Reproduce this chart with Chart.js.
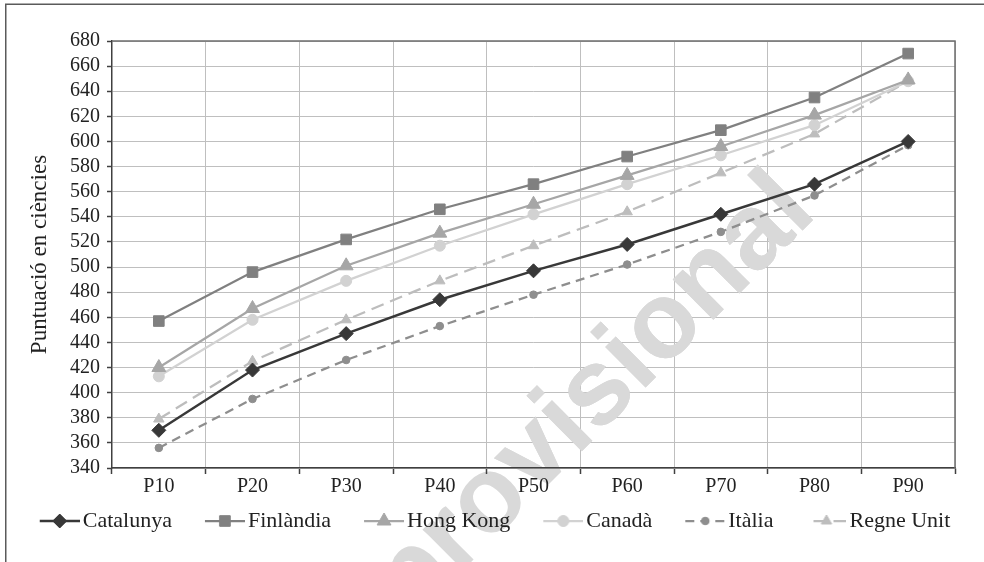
<!DOCTYPE html>
<html>
<head>
<meta charset="utf-8">
<script src="https://cdn.jsdelivr.net/npm/chart.js@4.4.1/dist/chart.umd.min.js"></script>
<style>
html,body{margin:0;padding:0;background:#fff;}
#wrap{width:984px;height:562px;position:relative;}
</style>
</head>
<body>
<div id="wrap"><canvas id="c" width="984" height="562"></canvas></div>
<script>
// ---- data ----
const categories = ['P10', 'P20', 'P30', 'P40', 'P50', 'P60', 'P70', 'P80', 'P90'];
const seriesNames = ['Catalunya', 'Finlàndia', 'Hong Kong', 'Canadà', 'Itàlia', 'Regne Unit'];
const catalunya = [370, 418, 447, 474, 497, 518, 542, 566, 600];
const finlandia = [457, 496, 522, 546, 566, 588, 609, 635, 670];
const hongKong  = [420, 467, 501, 527, 550, 573, 596, 621, 649];
const canada    = [413, 458, 489, 517, 542, 566, 589, 613, 648];
const italia    = [356, 395, 426, 453, 478, 502, 528, 557, 597];
const regneUnit = [379, 425, 458, 489, 517, 544, 575, 606, 648];
const yMin = 340, yMax = 680, yStep = 20;
const yTitle = 'Puntuació en ciències';
const watermarkText = 'provisional';

// ---- styles ----
const SERIF = '"Liberation Serif", "Times New Roman", serif';
const LEGEND_FS = 22;
const styles = [
  {color: '#383838', dash: [], point: 'rectRot', radius: 7, width: 2.5, rtl: false},
  {color: '#808080', dash: [], point: 'rect', radius: 7.5, width: 2.25, rtl: false},
  {color: '#a6a6a6', dash: [], point: 'triangle', radius: 8, width: 2.25, rtl: false},
  {color: '#d2d2d2', dash: [], point: 'circle', radius: 5.5, width: 2.25, rtl: false},
  {color: '#8e8e8e', dash: [9, 6], point: 'circle', radius: 3.8, width: 2.25, rtl: false},
  {color: '#bdbdbd', dash: [13, 7], point: 'triangle', radius: 6, width: 2.25, rtl: true}
];
const values = [catalunya, finlandia, hongKong, canada, italia, regneUnit];

const BOX_W = 65, LEGEND_PAD = 0, SAMPLE_LEN = 40;
function makeSample(st) {
  const W = BOX_W + LEGEND_FS - 6, H = 24;
  const cv = document.createElement('canvas');
  cv.width = W; cv.height = H;
  const ctx = cv.getContext('2d');
  const x0 = W - SAMPLE_LEN, y = H / 2;
  ctx.strokeStyle = st.color; ctx.lineWidth = st.width;
  ctx.setLineDash(st.dash);
  ctx.beginPath();
  if (st.rtl) { ctx.moveTo(W, y); ctx.lineTo(x0, y); } else { ctx.moveTo(x0, y); ctx.lineTo(W, y); }
  ctx.stroke();
  ctx.setLineDash([]);
  ctx.fillStyle = st.color; ctx.strokeStyle = st.color; ctx.lineWidth = 1;
  Chart.helpers.drawPoint(ctx, {pointStyle: st.point, radius: st.radius, rotation: 0, borderWidth: 1}, x0 + SAMPLE_LEN / 2, y);
  return cv;
}
const samples = styles.map(makeSample);

const datasets = seriesNames.map((name, i) => ({
  label: name,
  data: values[i],
  borderColor: styles[i].color,
  backgroundColor: styles[i].color,
  borderWidth: styles[i].width,
  borderDash: styles[i].dash,
  pointStyle: styles[i].point,
  pointRadius: styles[i].radius,
  pointHoverRadius: styles[i].radius,
  pointBorderWidth: 1,
  pointBackgroundColor: styles[i].color,
  pointBorderColor: styles[i].color,
  tension: 0,
  fill: false
}));

function drawWatermark(ctx) {
  ctx.save();
  ctx.translate(411, 622);
  ctx.rotate(-Math.PI / 4);
  ctx.font = 'bold 108px "Liberation Sans", Arial, sans-serif';
  ctx.fillStyle = '#d9d9d9';
  ctx.textBaseline = 'alphabetic';
  ctx.textAlign = 'left';
  ctx.fillText(watermarkText, 0, 0);
  ctx.restore();
}

const decor = {
  id: 'decor',
  beforeDraw(chart) {
    const ctx = chart.ctx;
    ctx.save();
    ctx.fillStyle = '#fff';
    ctx.fillRect(0, 0, chart.width, chart.height);
    drawWatermark(ctx);
    ctx.strokeStyle = '#5a5a5a';
    ctx.lineWidth = 1.5;
    ctx.beginPath();
    ctx.moveTo(5.75, chart.height);
    ctx.lineTo(5.75, 4.25);
    ctx.lineTo(chart.width, 4.25);
    ctx.stroke();
    ctx.restore();
  },
  beforeDatasetsDraw(chart) {
    const ctx = chart.ctx, a = chart.chartArea;
    ctx.save();
    ctx.beginPath();
    ctx.rect(a.left + 1, a.top + 1, a.right - a.left - 2, a.bottom - a.top - 2);
    ctx.clip();
    drawWatermark(ctx);
    ctx.restore();
    ctx.save();
    ctx.strokeStyle = '#6e6e6e';
    ctx.lineWidth = 1.5;
    ctx.beginPath();
    ctx.moveTo(a.left, a.top);
    ctx.lineTo(a.right, a.top);
    ctx.lineTo(a.right, a.bottom);
    ctx.stroke();
    ctx.restore();
  }
};

new Chart(document.getElementById('c'), {
  type: 'line',
  data: {labels: categories, datasets},
  options: {
    responsive: false,
    animation: false,
    devicePixelRatio: 1,
    layout: {padding: {left: 2, right: 29, top: 41, bottom: 20}},
    plugins: {
      tooltip: {enabled: false},
      legend: {
        position: 'bottom',
        labels: {
          usePointStyle: true,
          pointStyleWidth: BOX_W,
          padding: LEGEND_PAD,
          color: '#222',
          font: {family: SERIF, size: LEGEND_FS},
          generateLabels(chart) {
            return chart.data.datasets.map((ds, i) => ({
              text: ds.label,
              pointStyle: samples[i],
              fillStyle: 'transparent',
              strokeStyle: 'transparent',
              lineWidth: 0,
              hidden: false,
              datasetIndex: i,
              fontColor: '#222'
            }));
          }
        }
      }
    },
    scales: {
      x: {
        offset: true,
        grid: {offset: true, color: '#bfbfbf', lineWidth: 1, drawTicks: true, tickLength: 6, tickColor: '#404040', tickWidth: 1.5},
        border: {color: '#404040', width: 1.5},
        ticks: {color: '#222', font: {family: SERIF, size: 20}, padding: 1, maxRotation: 0, autoSkip: false},
        afterFit(scale) { scale.height = 42; }
      },
      y: {
        min: yMin, max: yMax,
        grid: {color: '#bfbfbf', lineWidth: 1, drawTicks: true, tickLength: 5, tickColor: '#404040', tickWidth: 1.5},
        border: {color: '#404040', width: 1.5},
        ticks: {stepSize: yStep, autoSkip: false, color: '#222', font: {family: SERIF, size: 20}, padding: 7},
        title: {display: true, text: yTitle, color: '#222', font: {family: SERIF, size: 23}, padding: {top: 24, bottom: 0}},
        afterFit(scale) { scale.width = 110; }
      }
    }
  },
  plugins: [decor]
});
</script>
</body>
</html>
